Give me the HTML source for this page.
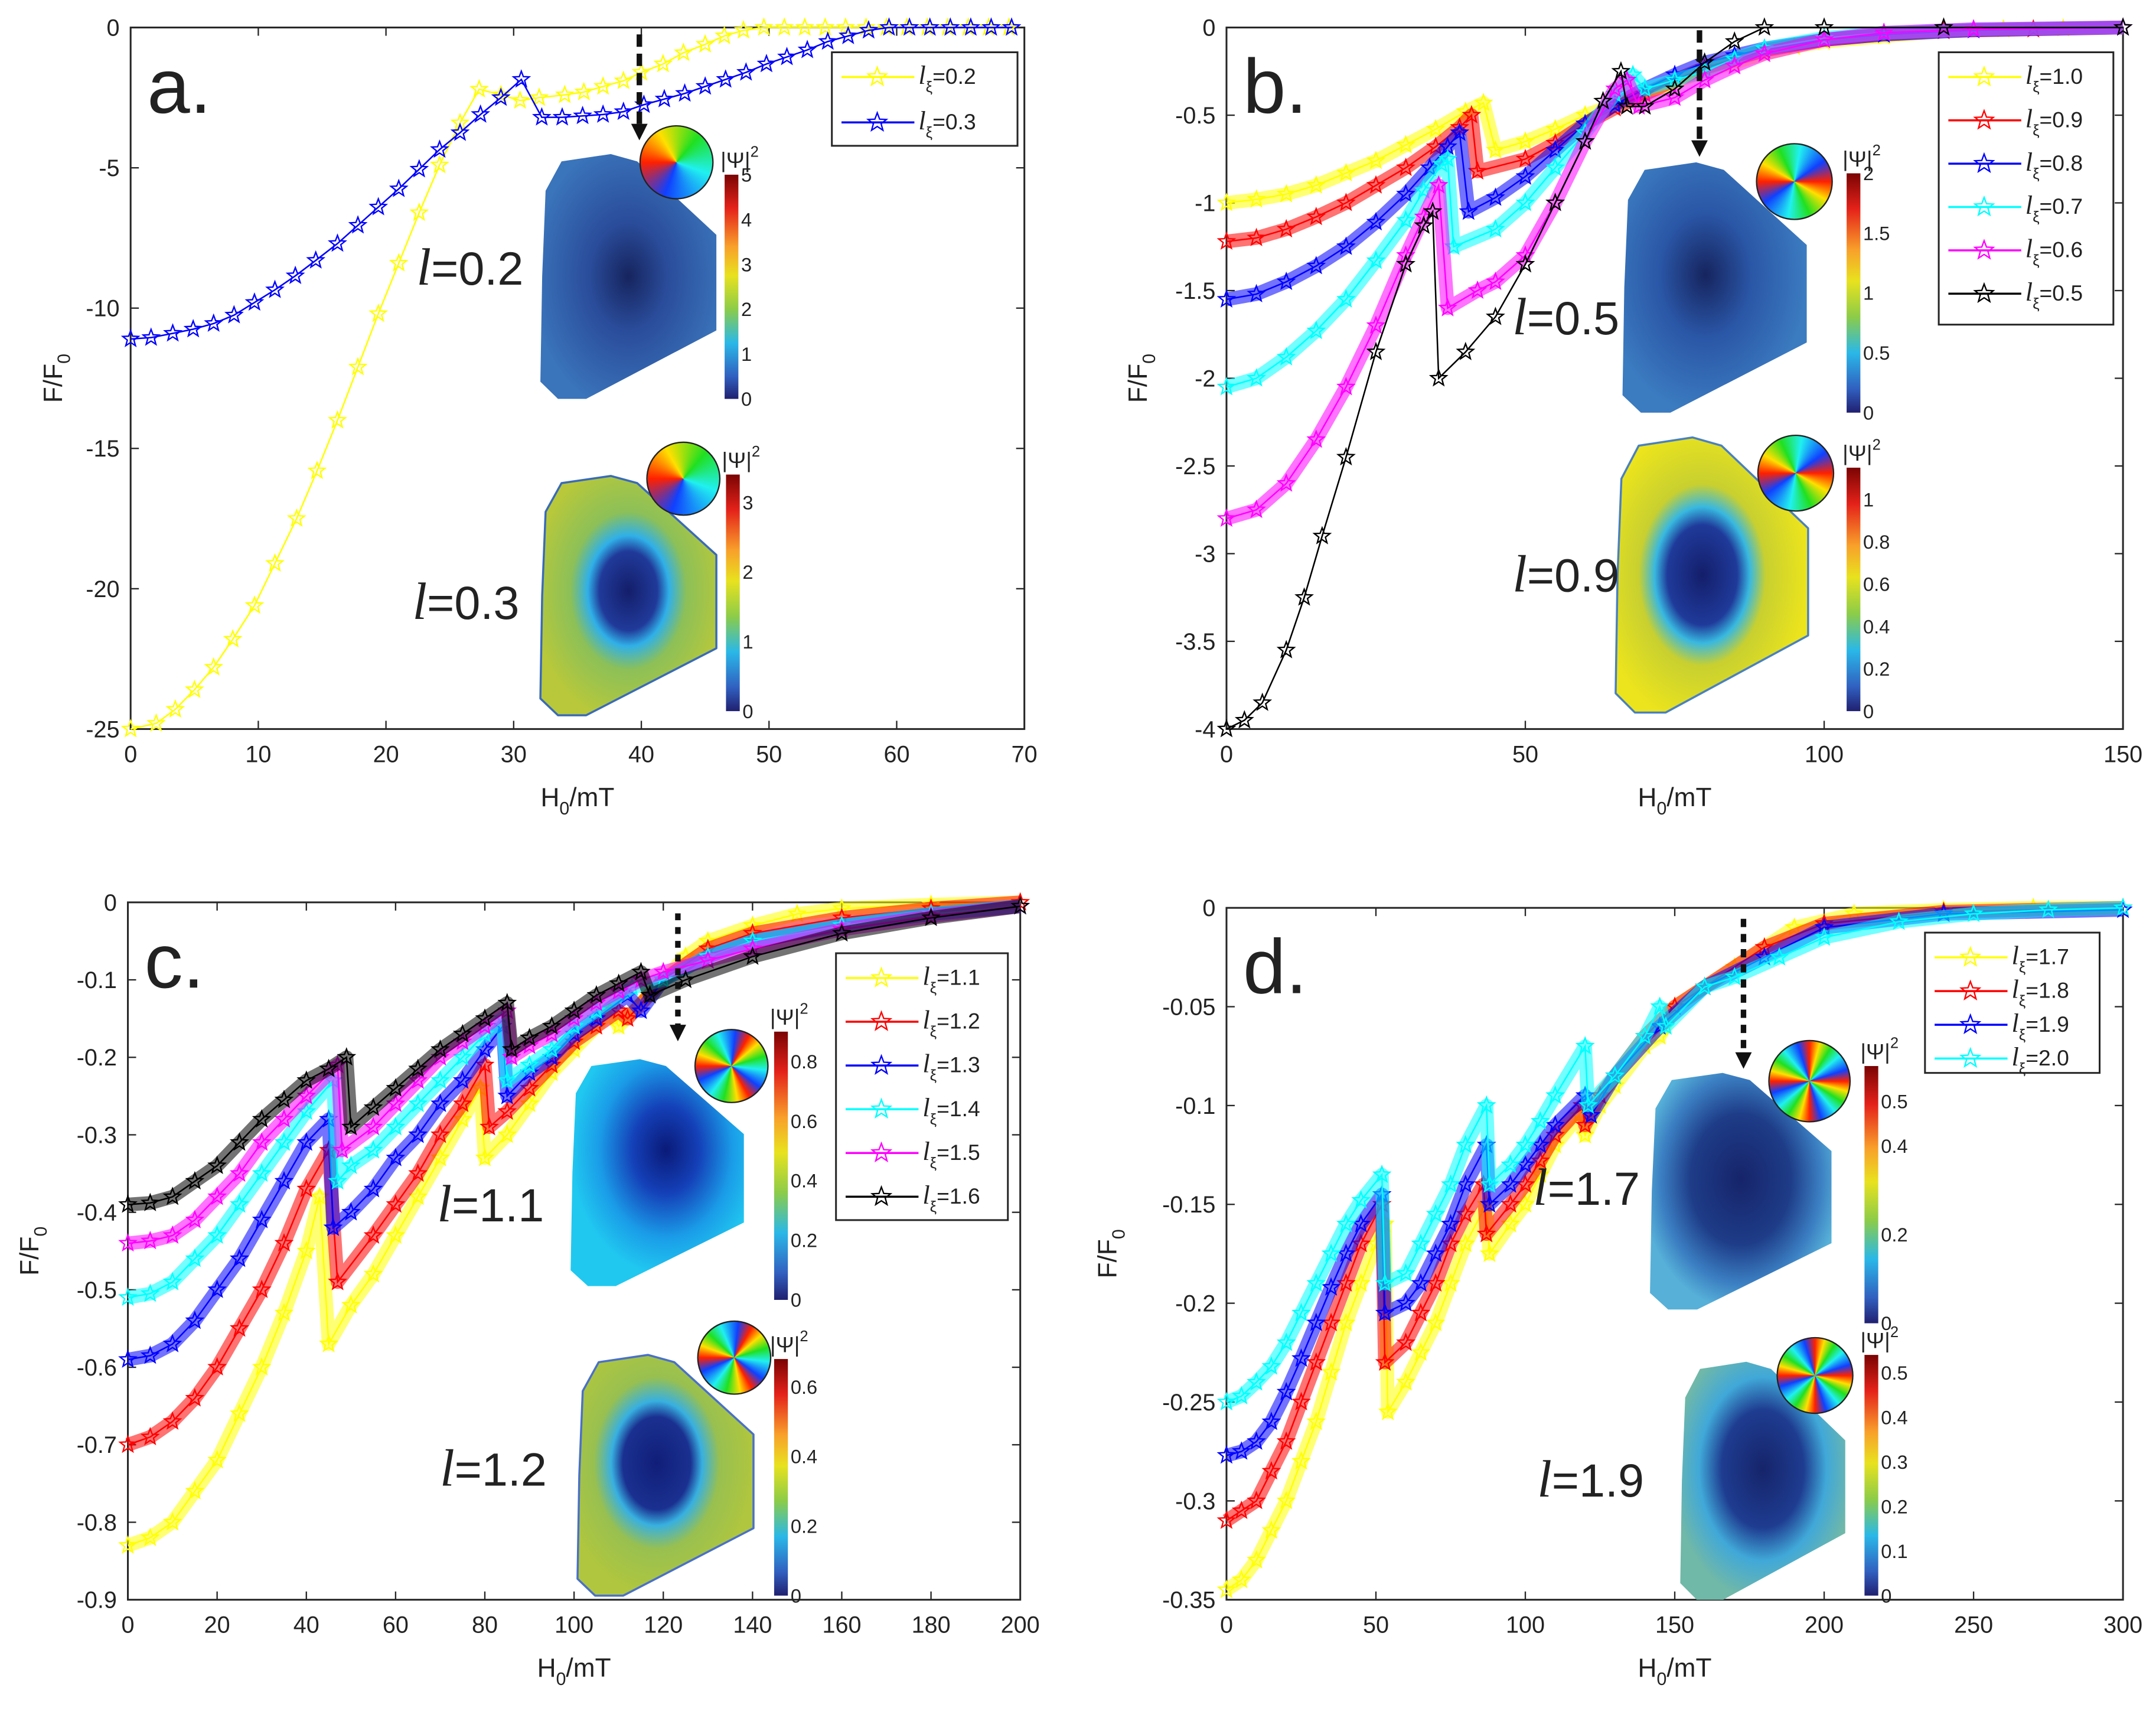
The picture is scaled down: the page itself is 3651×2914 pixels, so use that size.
<!DOCTYPE html>
<html><head><meta charset="utf-8">
<style>
html,body{margin:0;padding:0;background:#fff;width:3651px;height:2902px;overflow:hidden;}
#root{position:absolute;left:0;top:0;width:1568px;height:1246px;transform:scale(2.32844,2.32905);transform-origin:0 0;}
svg text{font-family:"Liberation Sans",sans-serif;fill:#222;}
.wheel{position:absolute;border-radius:50%;border:1px solid #222;box-sizing:border-box;}
</style></head>
<body>
<div id="root">
<svg id="chart" width="1568" height="1246" viewBox="0 0 1568 1246">
<defs>
<linearGradient id="jet" x1="0" y1="0" x2="0" y2="1">
<stop offset="0" stop-color="#7a0403"/><stop offset="0.15" stop-color="#e4221a"/><stop offset="0.32" stop-color="#f8a02a"/><stop offset="0.45" stop-color="#e8e21e"/><stop offset="0.6" stop-color="#8ccc48"/><stop offset="0.75" stop-color="#2ab8e8"/><stop offset="0.9" stop-color="#3060c0"/><stop offset="1" stop-color="#202070"/>
</linearGradient>
<radialGradient id="ga1" cx="0.5" cy="0.5" r="0.55"><stop offset="0" stop-color="#16245e"/><stop offset="0.4" stop-color="#2a4c9a"/><stop offset="1" stop-color="#3a74ba"/></radialGradient>
<radialGradient id="ga2" cx="0.5" cy="0.48" r="0.55"><stop offset="0" stop-color="#141e6a"/><stop offset="0.3" stop-color="#203a9a"/><stop offset="0.42" stop-color="#30b0e8"/><stop offset="0.6" stop-color="#8cc058"/><stop offset="1" stop-color="#b8c83a"/></radialGradient>
<radialGradient id="gb1" cx="0.45" cy="0.45" r="0.55"><stop offset="0" stop-color="#16245e"/><stop offset="0.45" stop-color="#2a56a6"/><stop offset="1" stop-color="#3b7bc0"/></radialGradient>
<radialGradient id="gb2" cx="0.45" cy="0.5" r="0.55"><stop offset="0" stop-color="#141e6a"/><stop offset="0.33" stop-color="#1f3a9a"/><stop offset="0.45" stop-color="#38b8e0"/><stop offset="0.6" stop-color="#c8d030"/><stop offset="1" stop-color="#ece41c"/></radialGradient>
<radialGradient id="gc1" cx="0.55" cy="0.4" r="0.55"><stop offset="0" stop-color="#0a1a78"/><stop offset="0.35" stop-color="#1440b8"/><stop offset="0.7" stop-color="#1a9ce8"/><stop offset="1" stop-color="#20c8f0"/></radialGradient>
<radialGradient id="gc2" cx="0.45" cy="0.45" r="0.55"><stop offset="0" stop-color="#101e78"/><stop offset="0.35" stop-color="#1a3090"/><stop offset="0.47" stop-color="#38b0e0"/><stop offset="0.65" stop-color="#98c050"/><stop offset="1" stop-color="#b0c63e"/></radialGradient>
<radialGradient id="gd1" cx="0.5" cy="0.45" r="0.55"><stop offset="0" stop-color="#16246a"/><stop offset="0.5" stop-color="#1e3c88"/><stop offset="0.8" stop-color="#3b7fc2"/><stop offset="1" stop-color="#56b0d8"/></radialGradient>
<radialGradient id="gd2" cx="0.5" cy="0.45" r="0.55"><stop offset="0" stop-color="#16246a"/><stop offset="0.45" stop-color="#1e3c90"/><stop offset="0.7" stop-color="#40a8d8"/><stop offset="1" stop-color="#70b8a8"/></radialGradient>
</defs>
</svg>
</div>
<script>
// ---------- data ----------
const aTicksX=[0,10,20,30,40,50,60,70];
const aTicksY=[0,-5,-10,-15,-20,-25];
const aTickLabY=["0","-5","-10","-15","-20","-25"];
const bTicksX=[0,50,100,150];
const bTicksY=[0,-0.5,-1,-1.5,-2,-2.5,-3,-3.5,-4];
const bTickLabY=["0","-0.5","-1","-1.5","-2","-2.5","-3","-3.5","-4"];
const cTicksX=[0,20,40,60,80,100,120,140,160,180,200];
const cTicksY=[0,-0.1,-0.2,-0.3,-0.4,-0.5,-0.6,-0.7,-0.8,-0.9];
const cTickLabY=["0","-0.1","-0.2","-0.3","-0.4","-0.5","-0.6","-0.7","-0.8","-0.9"];
const dTicksX=[0,50,100,150,200,250,300];
const dTicksY=[0,-0.05,-0.1,-0.15,-0.2,-0.25,-0.3,-0.35];
const dTickLabY=["0","-0.05","-0.1","-0.15","-0.2","-0.25","-0.3","-0.35"];

const a_x_02=[0,2,3.5,5,6.5,8,9.7,11.3,13,14.6,16.2,17.8,19.4,21,22.6,24.2,25.8,27.3,29,30.5,32,34,35.5,37,38.6,40,41.7,43.3,45,46.5,48,49.6,51.2,52.8,54.4,56,57.6,59.2,60.8,62.4,64,65.6,67.2,68.8];
const a_y_02=[-25,-24.8,-24.3,-23.6,-22.8,-21.8,-20.6,-19.1,-17.5,-15.8,-14,-12.1,-10.2,-8.4,-6.6,-4.9,-3.4,-2.2,-2.4,-2.6,-2.5,-2.4,-2.3,-2.1,-1.9,-1.6,-1.3,-0.9,-0.6,-0.3,-0.1,0,0,0,0,0,0,0,0,0,0,0,0,0];
const a_x_03=[0,1.6,3.3,4.9,6.5,8.1,9.7,11.3,12.9,14.5,16.2,17.8,19.4,21,22.6,24.2,25.8,27.4,29,30.6,32.2,33.8,35.4,37,38.6,40.2,41.8,43.4,45,46.6,48.2,49.8,51.4,53,54.6,56.2,57.8,59.4,61,62.6,64.2,65.8,67.4,69];
const a_y_03=[-11.1,-11.05,-10.9,-10.75,-10.55,-10.25,-9.8,-9.35,-8.85,-8.3,-7.7,-7.05,-6.4,-5.75,-5.05,-4.35,-3.75,-3.1,-2.5,-1.85,-3.2,-3.2,-3.15,-3.1,-3.0,-2.75,-2.55,-2.35,-2.1,-1.85,-1.6,-1.3,-1.05,-0.8,-0.5,-0.3,-0.1,0,0,0,0,0,0,0];

const b_x_10=[0,5,10,15,20,25,30,35,40,43,45,50,55,60,65,70,75,80,85,90,95,100,110,120,130,140,150];
const b_y_10=[-1.0,-0.98,-0.95,-0.9,-0.83,-0.76,-0.67,-0.58,-0.48,-0.43,-0.7,-0.65,-0.58,-0.5,-0.44,-0.38,-0.31,-0.25,-0.2,-0.15,-0.11,-0.08,-0.05,-0.02,-0.01,-0.005,0];
const b_x_09=[0,5,10,15,20,25,30,35,39,41,42,50,55,60,65,70,75,80,85,90,100,110,120,135,150];
const b_y_09=[-1.22,-1.2,-1.15,-1.08,-1.0,-0.9,-0.8,-0.68,-0.57,-0.5,-0.82,-0.75,-0.66,-0.55,-0.46,-0.38,-0.3,-0.23,-0.18,-0.13,-0.07,-0.04,-0.02,-0.01,0];
const b_x_08=[0,5,10,15,20,25,30,34,37,39,40.5,45,50,55,60,65,70,75,80,85,90,100,110,125,150];
const b_y_08=[-1.55,-1.52,-1.45,-1.36,-1.25,-1.11,-0.95,-0.8,-0.68,-0.6,-1.05,-0.97,-0.85,-0.7,-0.55,-0.44,-0.35,-0.27,-0.2,-0.16,-0.12,-0.07,-0.04,-0.015,0];
const b_x_07=[0,5,10,15,20,25,30,33,36,37,38,45,50,55,60,65,68,70,75,80,85,90,100,110,125,150];
const b_y_07=[-2.05,-2.0,-1.88,-1.73,-1.55,-1.33,-1.1,-0.93,-0.78,-0.75,-1.25,-1.15,-1.0,-0.8,-0.6,-0.38,-0.27,-0.35,-0.3,-0.25,-0.18,-0.12,-0.06,-0.03,-0.01,0];
const b_x_06=[0,5,10,15,20,25,30,33,35.5,37,42,45,50,55,60,65,67,69,75,80,85,90,100,110,125,150];
const b_y_06=[-2.8,-2.75,-2.6,-2.35,-2.05,-1.7,-1.3,-1.08,-0.9,-1.6,-1.5,-1.45,-1.3,-1.0,-0.65,-0.35,-0.3,-0.45,-0.4,-0.3,-0.22,-0.15,-0.07,-0.03,-0.01,0];
const b_x_05=[0,3,6,10,13,16,20,25,30,33,34.5,35.5,40,45,50,55,60,63,66,67,70,75,80,85,90,100,120,150];
const b_y_05=[-4.0,-3.95,-3.85,-3.55,-3.25,-2.9,-2.45,-1.85,-1.35,-1.13,-1.05,-2.0,-1.85,-1.65,-1.35,-1.0,-0.65,-0.42,-0.25,-0.45,-0.45,-0.35,-0.2,-0.08,0,0,0,0];

const c_x_11=[0,5,10,15,20,25,30,35,40,43,45,50,55,60,65,70,75,79,80,85,90,95,100,105,108,110,115,120,125,130,140,150,160,180,200];
const c_y_11=[-0.83,-0.82,-0.8,-0.76,-0.72,-0.66,-0.6,-0.53,-0.45,-0.38,-0.57,-0.52,-0.48,-0.43,-0.38,-0.33,-0.28,-0.24,-0.33,-0.3,-0.26,-0.22,-0.19,-0.16,-0.14,-0.16,-0.13,-0.1,-0.07,-0.05,-0.03,-0.015,-0.008,-0.003,0];
const c_x_12=[0,5,10,15,20,25,30,35,40,45,47,55,60,65,70,75,80,81,85,90,95,100,105,110,112,120,130,140,160,180,200];
const c_y_12=[-0.7,-0.69,-0.67,-0.64,-0.6,-0.55,-0.5,-0.44,-0.37,-0.32,-0.49,-0.43,-0.39,-0.35,-0.3,-0.26,-0.21,-0.29,-0.27,-0.24,-0.21,-0.18,-0.16,-0.14,-0.15,-0.1,-0.06,-0.04,-0.02,-0.008,0];
const c_x_13=[0,5,10,15,20,25,30,35,40,45,46,50,55,60,65,70,75,80,84,85,90,95,100,105,112,115,120,130,140,160,180,200];
const c_y_13=[-0.59,-0.585,-0.57,-0.54,-0.5,-0.46,-0.41,-0.36,-0.31,-0.28,-0.42,-0.4,-0.37,-0.33,-0.3,-0.26,-0.23,-0.19,-0.16,-0.25,-0.22,-0.2,-0.17,-0.15,-0.12,-0.14,-0.1,-0.07,-0.05,-0.03,-0.015,-0.005];
const c_x_14=[0,5,10,15,20,25,30,35,40,46,47,50,55,60,65,70,75,80,84,85,90,95,100,105,113,120,130,140,160,180,200];
const c_y_14=[-0.51,-0.505,-0.49,-0.46,-0.43,-0.39,-0.35,-0.31,-0.27,-0.23,-0.36,-0.34,-0.32,-0.29,-0.26,-0.23,-0.2,-0.17,-0.15,-0.23,-0.21,-0.19,-0.16,-0.14,-0.11,-0.1,-0.07,-0.05,-0.03,-0.015,-0.005];
const c_x_15=[0,5,10,15,20,25,30,35,40,47,48,55,60,65,70,75,80,85,86,90,95,100,105,110,115,120,130,140,160,180,200];
const c_y_15=[-0.44,-0.437,-0.43,-0.41,-0.38,-0.35,-0.31,-0.28,-0.25,-0.21,-0.32,-0.29,-0.26,-0.23,-0.2,-0.18,-0.16,-0.14,-0.2,-0.185,-0.17,-0.15,-0.13,-0.115,-0.1,-0.09,-0.075,-0.06,-0.035,-0.018,-0.005];
const c_x_16=[0,5,10,15,20,25,30,35,40,45,49,50,55,60,65,70,75,80,85,86,90,95,100,105,110,115,117,125,140,160,180,200];
const c_y_16=[-0.39,-0.388,-0.38,-0.36,-0.34,-0.31,-0.28,-0.255,-0.23,-0.215,-0.2,-0.29,-0.265,-0.24,-0.215,-0.19,-0.17,-0.15,-0.13,-0.19,-0.175,-0.16,-0.14,-0.12,-0.105,-0.09,-0.12,-0.1,-0.07,-0.04,-0.02,-0.005];

const d_x_17=[0,5,10,15,20,25,30,35,40,45,50,53,54,60,65,70,75,80,87,88,95,100,105,110,118,120,125,130,140,145,150,160,170,180,190,210,240,270,300];
const d_y_17=[-0.345,-0.34,-0.33,-0.315,-0.3,-0.28,-0.26,-0.235,-0.21,-0.19,-0.17,-0.16,-0.255,-0.24,-0.225,-0.21,-0.19,-0.17,-0.15,-0.175,-0.16,-0.15,-0.135,-0.12,-0.105,-0.115,-0.1,-0.09,-0.07,-0.065,-0.05,-0.04,-0.03,-0.02,-0.01,-0.003,-0.001,0,0];
const d_x_18=[0,5,10,15,20,25,30,35,40,45,52,53,60,65,70,75,80,86,87,95,100,105,110,119,120,125,130,140,150,160,180,200,240,300];
const d_y_18=[-0.31,-0.305,-0.3,-0.285,-0.27,-0.25,-0.23,-0.21,-0.19,-0.17,-0.15,-0.23,-0.22,-0.205,-0.19,-0.17,-0.155,-0.14,-0.165,-0.15,-0.14,-0.128,-0.115,-0.1,-0.11,-0.095,-0.085,-0.065,-0.05,-0.04,-0.02,-0.008,-0.002,0];
const d_x_19=[0,5,10,15,20,25,30,35,40,45,52,53,60,65,70,75,80,87,88,95,100,105,110,120,122,130,145,160,180,200,240,300];
const d_y_19=[-0.277,-0.275,-0.27,-0.26,-0.245,-0.228,-0.21,-0.192,-0.175,-0.16,-0.145,-0.205,-0.2,-0.19,-0.175,-0.16,-0.14,-0.12,-0.15,-0.14,-0.13,-0.12,-0.11,-0.095,-0.105,-0.085,-0.06,-0.04,-0.025,-0.01,-0.003,-0.001];
const d_x_20=[0,5,10,15,20,25,30,35,40,45,52,53,60,65,70,75,80,87,88,95,100,105,110,120,121,130,140,145,147,160,170,185,200,225,250,275,300];
const d_y_20=[-0.25,-0.247,-0.24,-0.232,-0.22,-0.205,-0.19,-0.175,-0.16,-0.148,-0.135,-0.19,-0.185,-0.17,-0.155,-0.14,-0.12,-0.1,-0.14,-0.13,-0.12,-0.108,-0.095,-0.07,-0.1,-0.085,-0.065,-0.05,-0.06,-0.04,-0.035,-0.025,-0.015,-0.007,-0.003,-0.001,0];

// ---------- helpers ----------
const NS="http://www.w3.org/2000/svg";
const svg=document.getElementById('chart');
function mk(tag,attrs,parent){const e=document.createElementNS(NS,tag);for(const k in attrs)e.setAttribute(k,attrs[k]);(parent||svg).appendChild(e);return e;}
function starD(cx,cy,r){let d="";for(let i=0;i<10;i++){const rr=i%2?r*0.42:r;const a=-Math.PI/2+i*Math.PI/5;d+=(i?"L":"M")+(cx+rr*Math.cos(a)).toFixed(2)+","+(cy+rr*Math.sin(a)).toFixed(2);}return d+"Z";}

function makePanel(P){
  const g=mk('g',{});
  
  
  P.sx=v=>P.L+(v-P.xmin)/(P.xmax-P.xmin)*(P.R-P.L);
  P.sy=v=>P.T+(P.ymax-v)/(P.ymax-P.ymin)*(P.B-P.T);
  const fr=mk('rect',{x:P.L,y:P.T,width:P.R-P.L,height:P.B-P.T,fill:'#fff',stroke:'#262626','stroke-width':1.3},g);
  
  
  P.xt.forEach(v=>{const x=P.sx(v);
    mk('line',{x1:x,y1:P.B,x2:x,y2:P.B-6,stroke:'#262626','stroke-width':1},g);
    mk('line',{x1:x,y1:P.T,x2:x,y2:P.T+6,stroke:'#262626','stroke-width':1},g);
    const t=mk('text',{x:x,y:P.B+24,'text-anchor':'middle','font-size':17},g);t.textContent=String(v);
    
    
  });
  P.yt.forEach((v,i)=>{const y=P.sy(v);
    mk('line',{x1:P.L,y1:y,x2:P.L+6,y2:y,stroke:'#262626','stroke-width':1},g);
    mk('line',{x1:P.R,y1:y,x2:P.R-6,y2:y,stroke:'#262626','stroke-width':1},g);
    const t=mk('text',{x:P.L-8,y:y+6,'text-anchor':'end','font-size':17},g);t.textContent=P.yl[i];
    
    
  });
  const xl=mk('text',{x:(P.L+P.R)/2,y:P.B+56,'text-anchor':'middle','font-size':19},g);
  xl.innerHTML='H<tspan font-size="13" dy="6">0</tspan><tspan dy="-6">/mT</tspan>';
  
  
  const yc=(P.T+P.B)/2;
  const yl=mk('text',{x:P.ylx,y:yc,'text-anchor':'middle','font-size':19,transform:'rotate(-90 '+P.ylx+' '+yc+')'},g);
  yl.innerHTML='F/F<tspan font-size="13" dy="6">0</tspan>';
  
  
  const pl=mk('text',{x:P.L+12,y:P.T+62,'font-size':56},g);pl.textContent=P.id+'.';
  
  
  P.g=g;return P;
}
function series(P,xs,ys,color,name,band,sr){
  const g=mk('g',{},P.g);
  
  
  const pts=xs.map((x,i)=>P.sx(x).toFixed(2)+","+P.sy(ys[i]).toFixed(2)).join(" ");
  if(band){const b=mk('polyline',{points:pts,fill:'none',stroke:color,'stroke-width':band,'stroke-opacity':0.55,'stroke-linejoin':'round'},g);
    
    }
  const l=mk('polyline',{points:pts,fill:'none',stroke:color,'stroke-width':1.1},g);
  
  
  xs.forEach((x,i)=>{const s=mk('path',{d:starD(P.sx(x),P.sy(ys[i]),sr),fill:'none',stroke:color,'stroke-width':1},g);
    
    });
}
function legend(P,x,y,w,h,entries,dy){
  const g=mk('g',{},P.g);
  
  
  mk('rect',{x:x,y:y,width:w,height:h,fill:'#fff',stroke:'#262626','stroke-width':1.3},g);
  entries.forEach((e,i)=>{const yy=y+18+i*dy;
    const eg=mk('g',{},g);
    
    
    mk('line',{x1:x+7,y1:yy,x2:x+60,y2:yy,stroke:e[0],'stroke-width':1.5},eg);
    mk('path',{d:starD(x+33,yy,7),fill:'none',stroke:e[0],'stroke-width':1},eg);
    const t=mk('text',{x:x+63,y:yy+5,'font-size':16},eg);
    t.innerHTML='<tspan font-family="Liberation Serif" font-style="italic" font-size="19">l</tspan><tspan font-size="11" dy="6">ξ</tspan><tspan dy="-6">='+e[1]+'</tspan>';
  });
}
function inset(P,o){
  const g=mk('g',{},P.g);
  
  
  const U=[[0.03,0.15],[0.12,0.03],[0.4,0],[0.55,0.03],[1,0.33],[1,0.72],[0.26,1],[0.1,1],[0,0.93],[0.01,0.5]];
  const pts=U.map(p=>(o.x+p[0]*o.w).toFixed(1)+","+(o.y+p[1]*o.h).toFixed(1)).join(" ");
  const hm=mk('polygon',{points:pts,fill:'url(#'+o.grad+')',stroke:o.edge||'none','stroke-width':1.5,'stroke-linejoin':'round'},g);
  
  
  const cb=mk('rect',{x:o.cbx,y:o.cby,width:10,height:o.cbh,fill:'url(#jet)'},g);
  
  
  o.cbl.forEach(v=>{const yy=o.cby+o.cbh*(1-v/o.cbmax);
    const t=mk('text',{x:o.cbx+12,y:yy+5,'font-size':14,fill:'#333'},g);t.textContent=String(v);
    
    });
  const ct=mk('text',{x:o.cbx-3,y:o.cby-5,'font-size':16},g);
  ct.innerHTML='|Ψ|<tspan font-size="11" dy="-8">2</tspan>';
  
  
  const lt=mk('text',{x:o.lx,y:o.ly,'font-size':34,fill:'#222'},g);
  lt.innerHTML='<tspan font-family="Liberation Serif" font-style="italic" font-size="38">l</tspan>='+o.lab;
  
  
  const wh=document.createElement('div');wh.className='wheel';
  
  
  const r=o.wr;wh.style.left=(o.wx-r)+'px';wh.style.top=(o.wy-r)+'px';wh.style.width=(2*r)+'px';wh.style.height=(2*r)+'px';
  const n=o.wn;wh.style.background='repeating-conic-gradient(from 270deg,#ff2000 0deg,#ffe000 '+(60/n)+'deg,#20e020 '+(130/n)+'deg,#20f0f0 '+(200/n)+'deg,#1040ff '+(290/n)+'deg,#ff2000 '+(360/n)+'deg)';
  document.getElementById('root').appendChild(wh);
}
function arrow(P,x,y1,y2,dash){
  const g=mk('g',{},P.g);
  
  
  mk('line',{x1:x,y1:y1,x2:x,y2:y2-8,stroke:'#111','stroke-width':4,'stroke-dasharray':dash},g);
  mk('path',{d:'M'+(x-6)+','+(y2-12)+' L'+(x+6)+','+(y2-12)+' L'+x+','+y2+'Z',fill:'#111'},g);
}

// ---------- panel a ----------
const A=makePanel({id:'a',L:95,R:745,T:20,B:530,xmin:0,xmax:70,ymin:-25,ymax:0,xt:aTicksX,yt:aTicksY,yl:aTickLabY,ylx:45});
series(A,a_x_02,a_y_02,'#ffff00','series-l-0-2',0,6);
series(A,a_x_03,a_y_03,'#0000ff','series-l-0-3',0,6);
arrow(A,465,25,102,'9 5');
inset(A,{x:393,y:112,w:128,h:178,grad:'ga1',cbx:527,cby:127,cbh:163,cbmax:5,cbl:[5,4,3,2,1,0],lx:303,ly:207,lab:'0.2',wx:492,wy:118,wr:27,wn:1});
inset(A,{x:393,y:346,w:128,h:174,grad:'ga2',edge:'#3a6ab8',cbx:528,cby:345,cbh:172,cbmax:3.4,cbl:[3,2,1,0],lx:300,ly:450,lab:'0.3',wx:497,wy:348,wr:27,wn:1});
legend(A,605,38,135,68,[['#ffff00','0.2'],['#0000ff','0.3']],33);

// ---------- panel b ----------
const Bp=makePanel({id:'b',L:892,R:1544,T:20,B:530,xmin:0,xmax:150,ymin:-4,ymax:0,xt:bTicksX,yt:bTicksY,yl:bTickLabY,ylx:834});
series(Bp,b_x_10,b_y_10,'#ffff00','series-l-1-0',10,6);
series(Bp,b_x_09,b_y_09,'#ff0000','series-l-0-9',10,6);
series(Bp,b_x_08,b_y_08,'#0000ff','series-l-0-8',10,6);
series(Bp,b_x_07,b_y_07,'#00ffff','series-l-0-7',10,6);
series(Bp,b_x_06,b_y_06,'#ff00ff','series-l-0-6',10,6);
series(Bp,b_x_05,b_y_05,'#000000','series-l-0-5',0,6);
arrow(Bp,1236,22,114,'9 5');
inset(Bp,{x:1180,y:118,w:134,h:182,grad:'gb1',cbx:1343,cby:126,cbh:174,cbmax:2,cbl:[2,1.5,1,0.5,0],lx:1100,ly:243,lab:'0.5',wx:1305,wy:132,wr:28,wn:2});
inset(Bp,{x:1175,y:318,w:140,h:200,grad:'gb2',edge:'#4a80c0',cbx:1343,cby:340,cbh:177,cbmax:1.15,cbl:[1,0.8,0.6,0.4,0.2,0],lx:1100,ly:430,lab:'0.9',wx:1306,wy:344,wr:28,wn:2});
legend(Bp,1410,38,127,198,[['#ffff00','1.0'],['#ff0000','0.9'],['#0000ff','0.8'],['#00ffff','0.7'],['#ff00ff','0.6'],['#000000','0.5']],31.5);

// ---------- panel c ----------
const C=makePanel({id:'c',L:93,R:742,T:656,B:1163,xmin:0,xmax:200,ymin:-0.9,ymax:0,xt:cTicksX,yt:cTicksY,yl:cTickLabY,ylx:28});
series(C,c_x_11,c_y_11,'#ffff00','series-l-1-1',10,6);
series(C,c_x_12,c_y_12,'#ff0000','series-l-1-2',10,6);
series(C,c_x_13,c_y_13,'#0000ff','series-l-1-3',10,6);
series(C,c_x_14,c_y_14,'#00ffff','series-l-1-4',10,6);
series(C,c_x_15,c_y_15,'#ff00ff','series-l-1-5',10,6);
series(C,c_x_16,c_y_16,'#000000','series-l-1-6',10,6);
arrow(C,493,664,757,'5 5');
inset(C,{x:415,y:770,w:126,h:165,grad:'gc1',cbx:563,cby:750,cbh:195,cbmax:0.9,cbl:[0.8,0.6,0.4,0.2,0],lx:318,ly:888,lab:'1.1',wx:532,wy:775,wr:27,wn:3});
inset(C,{x:420,y:985,w:128,h:175,grad:'gc2',edge:'#4a70c8',cbx:563,cby:988,cbh:172,cbmax:0.68,cbl:[0.6,0.4,0.2,0],lx:320,ly:1080,lab:'1.2',wx:534,wy:987,wr:27,wn:3});
legend(C,608,693,125,194,[['#ffff00','1.1'],['#ff0000','1.2'],['#0000ff','1.3'],['#00ffff','1.4'],['#ff00ff','1.5'],['#000000','1.6']],31.8);

// ---------- panel d ----------
const D=makePanel({id:'d',L:892,R:1544,T:660,B:1163,xmin:0,xmax:300,ymin:-0.35,ymax:0,xt:dTicksX,yt:dTicksY,yl:dTickLabY,ylx:812});
series(D,d_x_17,d_y_17,'#ffff00','series-l-1-7',10,6);
series(D,d_x_18,d_y_18,'#ff0000','series-l-1-8',10,6);
series(D,d_x_19,d_y_19,'#0000ff','series-l-1-9',10,6);
series(D,d_x_20,d_y_20,'#00ffff','series-l-2-0',10,6);
arrow(D,1268,668,777,'6 5');
inset(D,{x:1200,y:780,w:132,h:172,grad:'gd1',cbx:1356,cby:775,cbh:187,cbmax:0.58,cbl:[0.5,0.4,0.2,0],lx:1115,ly:876,lab:'1.7',wx:1316,wy:786,wr:30,wn:4});
inset(D,{x:1222,y:990,w:120,h:173,grad:'gd2',cbx:1356,cby:985,cbh:175,cbmax:0.54,cbl:[0.5,0.4,0.3,0.2,0.1,0],lx:1118,ly:1088,lab:'1.9',wx:1320,wy:1000,wr:28,wn:4});
legend(D,1400,678,127,102,[['#ffff00','1.7'],['#ff0000','1.8'],['#0000ff','1.9'],['#00ffff','2.0']],24.5);
</script>
</body></html>
